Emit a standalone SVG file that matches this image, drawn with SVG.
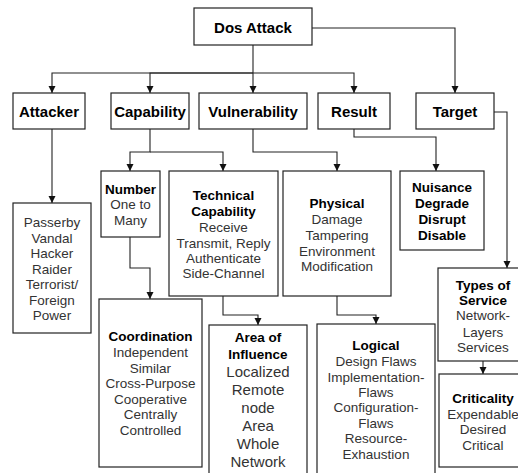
<svg xmlns="http://www.w3.org/2000/svg" width="518" height="473" viewBox="0 0 518 473">
<defs>
<marker id="arr" markerUnits="userSpaceOnUse" markerWidth="8" markerHeight="8" refX="7" refY="3.5" orient="auto">
<path d="M0,0 L7,3.5 L0,7 z" fill="#111"/>
</marker>
<style>
rect{fill:#fff;stroke:#222;stroke-width:1.2}
text{font-family:"Liberation Sans",Arial,sans-serif;text-anchor:middle}
.h{font-size:15px;font-weight:bold;fill:#000}
.b{font-size:13.5px;font-weight:bold;fill:#000}
.r{font-size:13.5px;fill:#333}
.l{font-size:15px;fill:#333}
#connectors path{fill:none;stroke:#222;stroke-width:1.1;marker-end:url(#arr)}
</style>
</defs>
<rect x="0" y="0" width="518" height="473" style="fill:#fff;stroke:none"/>
<g id="connectors">
<path d="M253,45 V93"/>
<path d="M253,73 H52 V93"/>
<path d="M253,73 H150 V93"/>
<path d="M253,73 H354 V93"/>
<path d="M312,28 H455 V93"/>
<path d="M52,129 V203"/>
<path d="M150,129 V152 H130 V171"/>
<path d="M150,152 H223 V171"/>
<path d="M253,129 V152 H337 V171"/>
<path d="M354,129 V137 H436 V171"/>
<path d="M494,112 H507 V268"/>
<path d="M130,237 V268 H150 V299"/>
<path d="M223,296 V315 H258 V325"/>
<path d="M337,296 V315 H376 V324"/>
<path d="M483,361 V374"/>
</g>
<g id="dos"><rect x="194" y="8" width="118" height="37"/><text class="h" x="253" y="33">Dos Attack</text></g>
<g id="attacker"><rect x="13" y="93" width="72" height="36"/><text class="h" x="49" y="117">Attacker</text></g>
<g id="capability"><rect x="111" y="93" width="78" height="36"/><text class="h" x="150" y="117">Capability</text></g>
<g id="vulnerability"><rect x="199" y="93" width="108" height="36"/><text class="h" x="253" y="117">Vulnerability</text></g>
<g id="result"><rect x="318" y="93" width="72" height="36"/><text class="h" x="354" y="117">Result</text></g>
<g id="target"><rect x="416" y="93" width="78" height="36"/><text class="h" x="455" y="117">Target</text></g>
<g id="attacker-types"><rect x="13" y="203" width="78" height="130"/>
<text class="r" x="52" y="227">Passerby</text>
<text class="r" x="52" y="243">Vandal</text>
<text class="r" x="52" y="258">Hacker</text>
<text class="r" x="52" y="274">Raider</text>
<text class="r" x="52" y="289">Terrorist/</text>
<text class="r" x="52" y="305">Foreign</text>
<text class="r" x="52" y="320">Power</text>
</g>
<g id="number"><rect x="101" y="171" width="59" height="66"/>
<text class="b" x="130.5" y="194">Number</text>
<text class="r" x="130.5" y="209">One to</text>
<text class="r" x="130.5" y="225">Many</text>
</g>
<g id="technical"><rect x="169" y="171" width="109" height="125"/>
<text class="b" x="223.5" y="200">Technical</text>
<text class="b" x="223.5" y="216">Capability</text>
<text class="r" x="223.5" y="232">Receive</text>
<text class="r" x="223.5" y="248">Transmit, Reply</text>
<text class="r" x="223.5" y="263">Authenticate</text>
<text class="r" x="223.5" y="278">Side-Channel</text>
</g>
<g id="physical"><rect x="283" y="171" width="108" height="125"/>
<text class="b" x="337" y="208">Physical</text>
<text class="r" x="337" y="224">Damage</text>
<text class="r" x="337" y="240">Tampering</text>
<text class="r" x="337" y="256">Environment</text>
<text class="r" x="337" y="271">Modification</text>
</g>
<g id="nuisance"><rect x="400" y="171" width="84" height="79"/>
<text class="b" x="442" y="192">Nuisance</text>
<text class="b" x="442" y="208">Degrade</text>
<text class="b" x="442" y="224">Disrupt</text>
<text class="b" x="442" y="240">Disable</text>
</g>
<g id="coordination"><rect x="99" y="299" width="103" height="168"/>
<text class="b" x="150.5" y="341">Coordination</text>
<text class="r" x="150.5" y="357">Independent</text>
<text class="r" x="150.5" y="373">Similar</text>
<text class="r" x="150.5" y="388">Cross-Purpose</text>
<text class="r" x="150.5" y="404">Cooperative</text>
<text class="r" x="150.5" y="419">Centrally</text>
<text class="r" x="150.5" y="435">Controlled</text>
</g>
<g id="area"><rect x="209" y="325" width="98" height="160"/>
<text class="b" x="258" y="342">Area of</text>
<text class="b" x="258" y="359">Influence</text>
<text class="l" x="258" y="377">Localized</text>
<text class="l" x="258" y="395">Remote</text>
<text class="l" x="258" y="413">node</text>
<text class="l" x="258" y="431">Area</text>
<text class="l" x="258" y="449">Whole</text>
<text class="l" x="258" y="467">Network</text>
</g>
<g id="logical"><rect x="317" y="324" width="118" height="160"/>
<text class="b" x="376" y="350">Logical</text>
<text class="r" x="376" y="366">Design Flaws</text>
<text class="r" x="376" y="382">Implementation-</text>
<text class="r" x="376" y="397">Flaws</text>
<text class="r" x="376" y="412">Configuration-</text>
<text class="r" x="376" y="428">Flaws</text>
<text class="r" x="376" y="443">Resource-</text>
<text class="r" x="376" y="459">Exhaustion</text>
</g>
<g id="types"><rect x="438" y="268" width="89" height="93"/>
<text class="b" x="483" y="290">Types of</text>
<text class="b" x="483" y="305">Service</text>
<text class="r" x="483" y="320">Network-</text>
<text class="r" x="483" y="337">Layers</text>
<text class="r" x="483" y="352">Services</text>
</g>
<g id="criticality"><rect x="439" y="374" width="88" height="93"/>
<text class="b" x="483" y="403">Criticality</text>
<text class="r" x="483" y="419">Expendable</text>
<text class="r" x="483" y="434">Desired</text>
<text class="r" x="483" y="450">Critical</text>
</g>
</svg>
